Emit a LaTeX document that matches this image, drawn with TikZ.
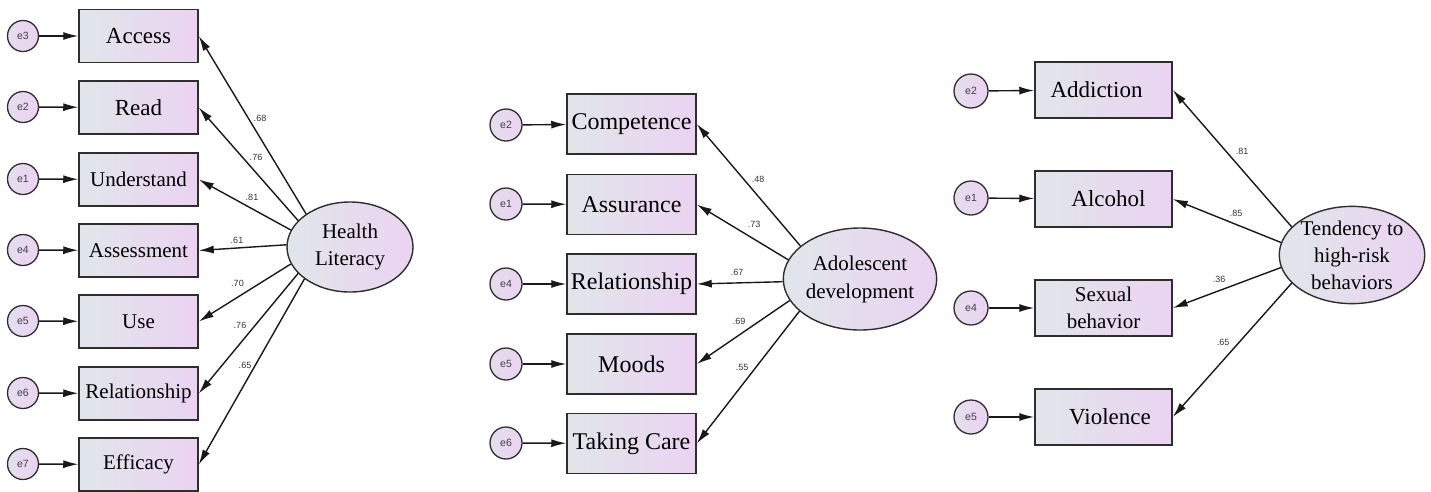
\documentclass[tikz,border=0pt]{standalone}
\usepackage{fontspec}
\setmainfont{Liberation Serif}[Ligatures=TeX]
\newfontfamily\timesfont{Liberation Serif}
\newfontfamily\arialfont{Liberation Sans}
\usepackage{tikz}
\usetikzlibrary{arrows.meta}
\usetikzlibrary{shapes.geometric}

\definecolor{fillL}{HTML}{E0E6EA}
\definecolor{fillR}{HTML}{EBD3F2}
\definecolor{edgegray}{HTML}{2E2E2E}

\begin{document}
\begin{tikzpicture}[
    x=1pt, y=-1pt,
    observed/.style={
        draw=edgegray, line width=1.5pt,
        left color=fillL, right color=fillR,
        minimum width=#1, inner sep=0pt, align=center,
        font=\timesfont\fontsize{21}{27}\selectfont
    },
    observed/.default=119pt,
    latent/.style={
        ellipse, draw=edgegray, line width=1.4pt,
        left color=fillL, right color=fillR,
        inner sep=0pt, align=center,
        font=\timesfont\fontsize{21}{27}\selectfont
    },
    error/.style={
        circle, draw=edgegray, line width=1.3pt,
        left color=fillL!50!fillR, right color=fillR,
        minimum size=#1, inner sep=0pt, text=black!75,
        font=\arialfont\fontsize{10.5}{12}\selectfont
    },
    error/.default=31pt,
    loading/.style={-{Latex[length=15pt,width=8pt]}, line width=1.4pt, black!90},
    weight/.style={inner sep=0pt, text=black!80, font=\arialfont\fontsize{9}{10}\selectfont}
    ]

    \useasboundingbox (0,0) rectangle (1431,491);

    % health literacy
    \node[error] (hl e3) at (23,36) {e3};
    \node[error] (hl e2) at (23,107) {e2};
    \node[error] (hl e1) at (23,179) {e1};
    \node[error] (hl e4) at (23,250) {e4};
    \node[error] (hl e5) at (23,321) {e5};
    \node[error] (hl e6) at (23,393) {e6};
    \node[error] (hl e7) at (23,464) {e7};
    \node[observed, minimum height=53pt, font=\timesfont\fontsize{23}{27}\selectfont] (access) at (138.5,36) {Access};
    \node[observed, minimum height=53pt, font=\timesfont\fontsize{23}{27}\selectfont] (read) at (138.5,107.5) {Read};
    \node[observed, minimum height=53pt] (understand) at (138.5,179.5) {Understand};
    \node[observed, minimum height=53pt] (assessment) at (138.5,250.5) {Assessment};
    \node[observed, minimum height=53pt] (use) at (138.5,321.5) {Use};
    \node[observed, minimum height=53pt] (relation1) at (138.5,393.5) {Relationship};
    \node[observed, minimum height=53pt] (efficacy) at (138.5,464.5) {Efficacy};
    \node[latent, minimum width=126pt, minimum height=90pt] (hl) at (350,247) {Health\\Literacy};

    \draw[loading] (hl e3) -- (access);
    \draw[loading] (hl e2) -- (read);
    \draw[loading] (hl e1) -- (understand);
    \draw[loading] (hl e4) -- (assessment);
    \draw[loading] (hl e5) -- (use);
    \draw[loading] (hl e6) -- (relation1);
    \draw[loading] (hl e7) -- (efficacy);
    \draw[loading] (hl.143) -- (access.east);
    \draw[loading] (hl.153) -- (read.east);
    \draw[loading] (hl.164) -- (understand.east);
    \draw[loading] (hl.178) -- (assessment.east);
    \draw[loading] (hl.196) -- (use.east);
    \draw[loading] (hl.207) -- (relation1.east);
    \draw[loading] (hl.215) -- (efficacy.east);
    \node[weight] (w access) at (260,118) {.68};
    \node[weight] (w read) at (256,157) {.76};
    \node[weight] (w understand) at (252,197) {.81};
    \node[weight] (w assessment) at (237,240) {.61};
    \node[weight] (w use) at (237.5,283) {.70};
    \node[weight] (w relation1) at (240,325) {.76};
    \node[weight] (w efficacy) at (245,365) {.65};

    % adolescent development
    \node[error=32pt] (ad e2) at (506,125) {e2};
    \node[error=32pt] (ad e1) at (506,204) {e1};
    \node[error=32pt] (ad e4) at (506,284) {e4};
    \node[error=32pt] (ad e5) at (506,364) {e5};
    \node[error=32pt] (ad e6) at (506,443) {e6};
    \node[observed=129pt, minimum height=60pt, font=\timesfont\fontsize{24}{28}\selectfont] (competence) at (631.5,124) {Competence};
    \node[observed=129pt, minimum height=60pt, font=\timesfont\fontsize{24}{28}\selectfont] (assurance) at (631.5,204.5) {Assurance};
    \node[observed=129pt, minimum height=60pt, font=\timesfont\fontsize{24}{28}\selectfont] (relation2) at (631.5,284) {Relationship};
    \node[observed=129pt, minimum height=60pt, font=\timesfont\fontsize{24}{28}\selectfont] (moods) at (631.5,364) {Moods};
    \node[observed=129pt, minimum height=60pt, font=\timesfont\fontsize{24}{28}\selectfont] (care) at (631.5,443.5) {Taking Care};
    \node[latent, minimum width=134pt, minimum height=102pt, font=\timesfont\fontsize{21}{28}\selectfont] (ad) at (860,279) {Adolescent\\development};

    \draw[loading] (ad e2) -- (competence);
    \draw[loading] (ad e1) -- (assurance);
    \draw[loading] (ad e4) -- (relation2);
    \draw[loading] (ad e5) -- (moods);
    \draw[loading] (ad e6) -- (care);
    \draw[loading] (ad.151) -- (competence.east);
    \draw[loading] (ad.165) -- (assurance.east);
    \draw[loading] (ad.182) -- (relation2.east);
    \draw[loading] (ad.197) -- (moods.east);
    \draw[loading] (ad.208) -- (care.east);
    \node[weight] (w competence) at (758,179) {.48};
    \node[weight] (w assurance) at (754,224) {.73};
    \node[weight] (w relation2) at (737,272) {.67};
    \node[weight] (w moods) at (739,321) {.69};
    \node[weight] (w care) at (742,367) {.55};

    % tendency to high-risk behaviors
    \node[error=34pt] (hr e2) at (971,91) {e2};
    \node[error=34pt] (hr e1) at (971,198) {e1};
    \node[error=34pt] (hr e4) at (971,308) {e4};
    \node[error=34pt] (hr e5) at (971,417) {e5};
    \node[observed=137pt, minimum height=56pt, font=\timesfont\fontsize{23}{27}\selectfont] (addiction) at (1103.5,90) {Addiction\hspace{14pt}};
    \node[observed=137pt, minimum height=56pt, font=\timesfont\fontsize{23}{27}\selectfont] (alcohol) at (1103.5,199) {\hspace{10pt}Alcohol};
    \node[observed=137pt, minimum height=56pt] (sexual) at (1103.5,308) {Sexual\\behavior};
    \node[observed=137pt, minimum height=56pt, font=\timesfont\fontsize{23}{27}\selectfont] (violence) at (1103.5,417) {\hspace{13pt}Violence};
    \node[latent, minimum width=144pt, minimum height=96pt] (hr) at (1352,255) {Tendency to\\high-risk\\behaviors};

    \draw[loading] (hr e2) -- (addiction);
    \draw[loading] (hr e1) -- (alcohol);
    \draw[loading] (hr e4) -- (sexual);
    \draw[loading] (hr e5) -- (violence);
    \draw[loading] (hr.155) -- (addiction.east);
    \draw[loading] (hr.170) -- (alcohol.east);
    \draw[loading] (hr.190) -- (sexual.east);
    \draw[loading] (hr.205) -- (violence.east);
    \node[weight] (w addiction) at (1242,151) {.81};
    \node[weight] (w alcohol) at (1236,213) {.85};
    \node[weight] (w sexual) at (1219,279) {.36};
    \node[weight] (w violence) at (1223,342) {.65};
\end{tikzpicture}
\end{document}
